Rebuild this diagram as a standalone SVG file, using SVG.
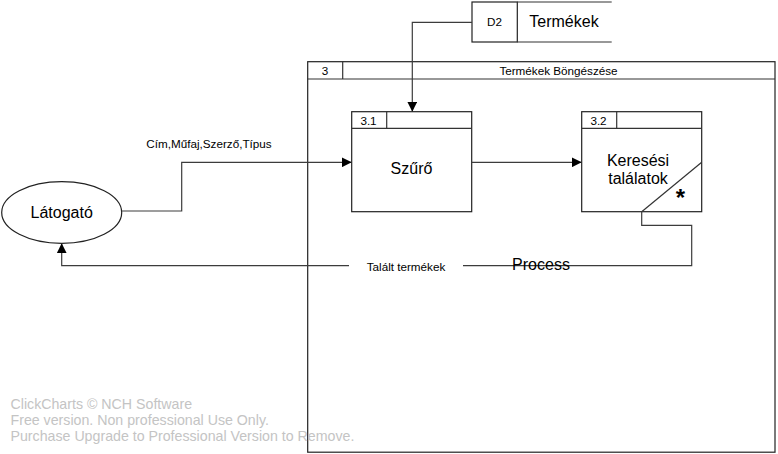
<svg xmlns="http://www.w3.org/2000/svg" width="778" height="454" viewBox="0 0 778 454">
<defs>
<marker id="arr" viewBox="0 0 10 10" refX="10" refY="5" markerWidth="10" markerHeight="10" markerUnits="userSpaceOnUse" orient="auto">
<path d="M0,0 L10,5 L0,10 z" fill="#000"/>
</marker>
<style>
.box{fill:#fff;stroke:#222;stroke-width:1.2}
.ln{fill:none;stroke:#333;stroke-width:1.2}
.con{fill:none;stroke:#3c3c3c;stroke-width:1.2}
.t{font-family:"Liberation Sans",Arial,sans-serif;fill:#000}
.s{font-size:11.7px}
.m{font-size:16px}
.wm{font-family:"Liberation Sans",Arial,sans-serif;font-size:14.2px;fill:#c4c4c4}
</style>
</defs>
<rect width="778" height="454" fill="#fff"/>
<g id="process3">
<rect class="box" x="307.7" y="61.7" width="467.3" height="390.5"/>
<line class="ln" x1="307.7" y1="79" x2="775" y2="79"/>
<line class="ln" x1="342.7" y1="61.7" x2="342.7" y2="79"/>
<text class="t s" x="325" y="74.5" text-anchor="middle">3</text>
<text class="t s" x="558.5" y="74.5" text-anchor="middle">Termékek Böngészése</text>
</g>
<g id="d2">
<rect class="box" x="472" y="2" width="45.3" height="40"/>
<line class="ln" x1="517.3" y1="2" x2="611.7" y2="2"/>
<line class="ln" x1="517.3" y1="42" x2="611.7" y2="42"/>
<text class="t s" x="494.5" y="26" text-anchor="middle">D2</text>
<text class="t m" x="564" y="27" text-anchor="middle">Termékek</text>
</g>
<g id="p31">
<rect class="box" x="351.7" y="111.7" width="120" height="100"/>
<line class="ln" x1="351.7" y1="128.3" x2="471.7" y2="128.3"/>
<line class="ln" x1="386.7" y1="111.7" x2="386.7" y2="128.3"/>
<text class="t s" x="368.5" y="124.5" text-anchor="middle">3.1</text>
<text class="t m" x="411.5" y="174" text-anchor="middle">Szűrő</text>
</g>
<g id="p32">
<rect class="box" x="581.7" y="111.7" width="120" height="100"/>
<line class="ln" x1="581.7" y1="128.3" x2="701.7" y2="128.3"/>
<line class="ln" x1="616.7" y1="111.7" x2="616.7" y2="128.3"/>
<line class="ln" x1="701.7" y1="162.3" x2="641.7" y2="211.7"/>
<text class="t s" x="598.5" y="124.5" text-anchor="middle">3.2</text>
<text class="t m" x="638" y="166" text-anchor="middle">Keresési</text>
<text class="t m" x="638" y="184" text-anchor="middle">találatok</text>
<text class="t" x="680.5" y="206" font-size="24" font-weight="bold" text-anchor="middle">*</text>
</g>
<g id="latogato">
<ellipse class="box" cx="61.7" cy="212.5" rx="60" ry="30.8"/>
<text class="t m" x="61.7" y="218" text-anchor="middle">Látogató</text>
</g>
<g id="connectors">
<polyline class="con" points="472,22.3 412.3,22.3 412.3,111.7" marker-end="url(#arr)"/>
<polyline class="con" points="121.7,211 181.7,211 181.7,162.3 351.7,162.3" marker-end="url(#arr)"/>
<line class="con" x1="471.7" y1="162.3" x2="581.7" y2="162.3" marker-end="url(#arr)"/>
<polyline class="con" points="463,265.7 691.7,265.7 691.7,225.3 641.7,225.3 641.7,211.7"/>
<polyline class="con" points="349,265.7 61.7,265.7 61.7,243.3" marker-end="url(#arr)"/>
<text class="t s" x="209" y="148" text-anchor="middle">Cím,Műfaj,Szerző,Típus</text>
<text class="t s" x="406" y="271" text-anchor="middle">Talált termékek</text>
</g>
<text class="t m" x="541" y="270" text-anchor="middle">Process</text>
<g id="watermark">
<text class="wm" x="10.5" y="409">ClickCharts © NCH Software</text>
<text class="wm" x="10.5" y="425">Free version. Non professional Use Only.</text>
<text class="wm" x="10.5" y="441">Purchase Upgrade to Professional Version to Remove.</text>
</g>
</svg>
